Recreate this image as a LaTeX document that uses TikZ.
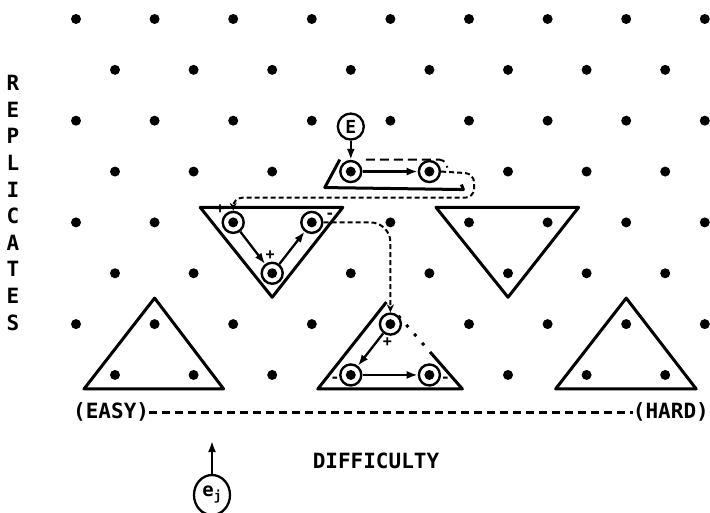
\documentclass[tikz,border=0pt]{standalone}
\usepackage{fontspec}
\setmonofont{DejaVu Sans Mono}
\usetikzlibrary{calc,arrows.meta,shapes.geometric}
\tikzset{
  dot/.style={circle,fill,inner sep=0pt,minimum size=10pt},
  ring/.style={circle,draw,line width=2.4pt,minimum size=21pt,inner sep=0pt},
  tri/.style={line width=3pt,line join=round},
  link/.style={line width=2.3pt,-{Latex[length=11pt,width=8pt]}},
  flow/.style={line width=2pt,dash pattern=on 5pt off 3pt,-{Stealth[length=8pt,width=7pt]}},
  rim/.style={line width=2pt,dash pattern=on 9pt off 5pt},
  word/.style={font=\fontsize{21}{21}\selectfont\ttfamily\bfseries,inner sep=0pt},
  sign/.style={font=\fontsize{15}{15}\selectfont\ttfamily\bfseries,inner sep=0pt}
}
\begin{document}
\begin{tikzpicture}[x=1pt,y=-1pt]
\useasboundingbox (0,0) rectangle (710,512);

% lattice of items
\foreach \r in {1,3,5,7}
  \foreach \c in {0,...,8}
    \node[dot] (d\r-\c) at ({76+78.6*\c},{19+50.85*(\r-1)}) {};
\foreach \r in {2,4,6,8}
  \foreach \c in {0,...,7}
    \node[dot] (d\r-\c) at ({115+78.6*\c},{19+50.85*(\r-1)}) {};

% triangles
\draw[tri] ($(d7-1)+(0,-26)$) -- ($(d8-0)+(-31,14)$) -- ($(d8-1)+(30,14)$) -- cycle;
\draw[tri] ($(d7-7)+(0,-26)$) -- ($(d8-6)+(-31,14)$) -- ($(d8-7)+(31,14)$) -- cycle;
\draw[tri] ($(d5-2)+(-33,-15)$) -- ($(d5-3)+(31,-15)$) -- ($(d6-2)+(0,24)$) -- cycle;
\draw[tri] ($(d5-5)+(-33,-15)$) -- ($(d5-6)+(31,-15)$) -- ($(d6-5)+(0,24)$) -- cycle;

\coordinate (top) at ($(d7-4)+(-4,-22)$);
\coordinate (bl) at ($(d8-3)+(-33,14)$);
\coordinate (br) at ($(d8-4)+(33,14)$);
\draw[tri] (top) -- (bl) -- (br) -- ($(br)!0.4!(top)$);
\draw[tri,dash pattern=on 3pt off 9pt] ($(br)!0.4!(top)$) -- ($(br)!0.85!(top)$);

\draw[tri] ($(d4-3)+(-11,-12)$) -- ($(d4-3)+(-26,16)$) -- ($(d4-4)+(34,18)$) -- ++(-2,-5);
\draw[rim,rounded corners=5pt] ($(d4-3)+(15,-12)$) -- ($(d4-4)+(15,-12)$) -- ($(d4-4)+(18,-4)$);

% marked items
\node[ring] (a1) at (d4-3) {};
\node[ring] (a2) at (d4-4) {};
\node[ring] (b1) at (d5-2) {};
\node[ring] (b2) at (d6-2) {};
\node[ring] (b3) at (d5-3) {};
\node[ring] (c1) at (d7-4) {};
\node[ring] (c2) at (d8-3) {};
\node[ring] (c3) at (d8-4) {};

\node[circle,draw,line width=2.3pt,minimum size=26pt,inner sep=0pt,font=\fontsize{18}{18}\selectfont\ttfamily\bfseries] (E) at ($(d4-3)+(0,-45)$) {E};

\draw[link] (E) -- (a1);
\draw[link] (a1) -- (a2);
\draw[link] (b1) -- (b2);
\draw[link] (b2) -- (b3);
\draw[link] (c1) -- (c2);
\draw[link] (c2) -- (c3);

\draw[flow,rounded corners=9pt] (a2.east) -- ++(33,2) |- ($(b1.north)+(0,-13)$) -- (b1.north);
\draw[flow,rounded corners=20pt] (b3.east) -| (c1.north);

\node[sign] (s1) at ($(b1)+(-13,-13)$) {+};
\node[sign] (s2) at ($(b3)+(18,-7)$) {-};
\node[sign] (s3) at ($(b2)+(-2,-18)$) {+};
\node[sign] (s4) at ($(c1)+(-3,18)$) {+};
\node[sign] (s5) at ($(c2)+(-16,5)$) {-};
\node[sign] (s6) at ($(c3)+(16,5)$) {-};

% axes
\foreach \l [count=\i] in {R,E,P,L,I,C,A,T,E,S}
  \node[word] (rep\i) at (13,{83+26.6*(\i-1)}) {\l};

\node[word,anchor=west] (easy) at (73,412) {(EASY)};
\node[word,anchor=east] (hard) at (709,412) {(HARD)};
\draw[line width=3pt,dash pattern=on 8pt off 5pt] (easy.east) -- (hard.west);
\node[word] (diff) at (376,461) {DIFFICULTY};

\node[ellipse,draw,line width=2.3pt,minimum width=36pt,minimum height=40pt,inner sep=0pt,font=\fontsize{19}{19}\selectfont\ttfamily\bfseries] (ej) at (212,495) {e\raisebox{-4pt}{\fontsize{13}{13}\selectfont j}};
\coordinate (ejtip) at (212,441);
\draw[link] (ej) -- (ejtip);
\end{tikzpicture}
\end{document}
